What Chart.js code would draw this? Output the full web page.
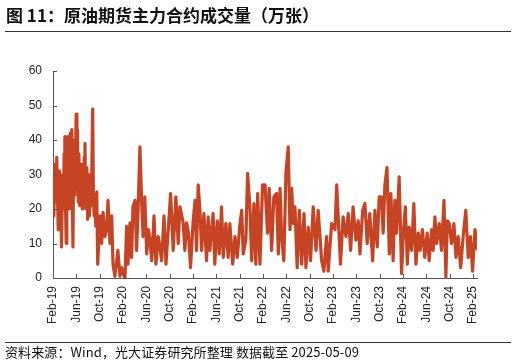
<!DOCTYPE html>
<html><head><meta charset="utf-8">
<script src="https://cdn.jsdelivr.net/npm/chart.js@4"></script>
<style>
html,body{margin:0;padding:0;background:#fff;}
#wrap{position:relative;width:516px;height:364px;overflow:hidden;background:#fff;}
#title{position:absolute;left:6px;top:6px;line-height:17px;font-weight:bold;font-size:17px;font-family:"Noto Sans CJK SC";color:#111;white-space:nowrap;}
.rule{position:absolute;left:5px;width:506px;height:1px;background:#333;}
#src{position:absolute;left:5px;top:345px;line-height:13px;font-size:13px;font-family:"Noto Sans CJK SC";color:#111;white-space:nowrap;letter-spacing:0.1px;}
canvas{position:absolute;left:0;top:0;}
</style></head>
<body>
<div id="wrap">
<canvas id="c" width="516" height="364"></canvas>
<div id="title">图 11：原油期货主力合约成交量（万张）</div>
<div class="rule" style="top:31px"></div>
<div class="rule" style="top:342px"></div>
<div id="src">资料来源：Wind，光大证券研究所整理 数据截至 2025-05-09</div>
</div>
<script>
const tickLabels = ['Feb-19','Jun-19','Oct-19','Feb-20','Jun-20','Oct-20','Feb-21','Jun-21','Oct-21','Feb-22','Jun-22','Oct-22','Feb-23','Jun-23','Oct-23','Feb-24','Jun-24','Oct-24','Feb-25'];
const yTicks = [0,10,20,30,40,50,60];
const dates = [
'2019-02-01','2019-02-05','2019-02-08','2019-02-12','2019-02-15','2019-02-19','2019-02-22','2019-02-26','2019-03-01','2019-03-05',
'2019-03-08','2019-03-12','2019-03-15','2019-03-19','2019-03-22','2019-03-26','2019-03-29','2019-04-02','2019-04-05','2019-04-09',
'2019-04-12','2019-04-16','2019-04-19','2019-04-23','2019-04-26','2019-04-30','2019-05-04','2019-05-08','2019-05-11','2019-05-14',
'2019-05-17','2019-05-21','2019-05-24','2019-05-28','2019-05-31','2019-06-04','2019-06-07','2019-06-11','2019-06-14','2019-06-18',
'2019-06-21','2019-06-25','2019-06-28','2019-07-02','2019-07-05','2019-07-09','2019-07-12','2019-07-16','2019-07-19','2019-07-23',
'2019-07-26','2019-07-30','2019-08-02','2019-08-06','2019-08-09','2019-08-13','2019-08-16','2019-08-20','2019-08-26','2019-08-30',
'2019-09-03','2019-09-07','2019-09-11','2019-09-16','2019-09-21',
'2019-10-03','2019-10-12','2019-10-19','2019-10-29',
'2019-11-07','2019-11-14','2019-11-24','2019-12-03','2019-12-10','2019-12-20','2020-01-05','2020-01-16','2020-01-25','2020-02-04',
'2020-02-11','2020-02-19','2020-02-26','2020-03-07','2020-03-16','2020-03-23','2020-04-03','2020-04-11','2020-04-18','2020-04-28',
'2020-05-07','2020-05-15','2020-05-24','2020-06-03','2020-06-12','2020-06-20','2020-06-29','2020-07-11','2020-07-21','2020-08-02',
'2020-08-11','2020-08-20','2020-09-02','2020-09-12','2020-09-24','2020-10-06','2020-10-20','2020-11-03','2020-11-15','2020-11-24',
'2020-12-11','2020-12-20','2020-12-29','2021-01-08','2021-01-19','2021-02-02','2021-02-11','2021-02-18','2021-02-26','2021-03-07',
'2021-03-16','2021-03-28','2021-04-11','2021-04-19','2021-04-28','2021-05-15','2021-05-24','2021-06-06','2021-06-16','2021-06-28',
'2021-07-07','2021-07-21','2021-08-02','2021-08-11','2021-08-26','2021-09-07','2021-09-19','2021-10-03','2021-10-12','2021-10-20',
'2021-11-03','2021-11-12','2021-11-24','2021-12-03','2021-12-15','2021-12-25','2022-01-04','2022-01-16','2022-01-30','2022-02-11',
'2022-02-23','2022-03-03','2022-03-16','2022-03-28','2022-04-11','2022-04-20','2022-04-29','2022-05-07','2022-05-19','2022-05-30',
'2022-06-11','2022-06-20','2022-06-29','2022-07-07','2022-07-16','2022-07-28','2022-08-08','2022-08-21','2022-09-02','2022-09-12',
'2022-09-24','2022-10-06','2022-10-20','2022-11-04','2022-11-15','2022-12-03','2022-12-15','2022-12-29','2023-01-07','2023-01-25',
'2023-02-11','2023-02-19','2023-03-03','2023-03-10','2023-03-24','2023-04-08','2023-04-20','2023-05-02','2023-05-15','2023-05-30',
'2023-06-11','2023-06-20','2023-07-04','2023-07-16','2023-07-28','2023-08-11','2023-08-26','2023-09-07','2023-09-19','2023-09-29',
'2023-10-11','2023-10-20','2023-10-29','2023-11-09','2023-11-21','2023-11-29','2023-12-11','2023-12-20','2023-12-29','2024-01-12',
'2024-01-25','2024-02-02','2024-02-13','2024-02-23','2024-03-03','2024-03-16','2024-03-28','2024-04-08','2024-04-20','2024-04-29',
'2024-05-12','2024-05-24','2024-06-06','2024-06-16','2024-06-29','2024-07-07','2024-07-16','2024-07-25','2024-08-08','2024-08-20',
'2024-09-02','2024-09-12','2024-09-19','2024-09-29','2024-10-11','2024-10-24','2024-11-04','2024-11-15','2024-11-28','2024-12-11',
'2024-12-25','2025-01-07','2025-01-19','2025-01-30','2025-02-11','2025-02-23'
];
const volumes = [
30,18,27,33,22,35,26,14,24,31,
18,28,9,22,30,20,36,41,22,10,
30,41,24,38,20,42,26,43,22,9,
30,40,24,35,47.5,28,43,22,36,21,
30,24,33,20,31,22,35,39,24,20,
32,17,30,23,18,28,21,26,49,22,
18,24,15,25,4,
18,10,19,12,
14,22.5,10,18,4,0.5,8,0.5,3,1,
0,15,4,16,6,20.6,22.5,8,18,38,
22.5,12,23.5,7,14,11,5,18,4,12,
9,5,18,4,14,24.5,8,23.5,10,20.6,
16,8,16,13,3,16.6,22.5,8,27,19.6,
8,18.7,5,17.7,8,18.7,4,16.6,7,20.6,
6,15.8,6,15.8,4,12,6,15.8,19.6,7,
11,30.3,20.6,5,21.6,4,24.5,4,27,27,
13,26,8,23.5,24.5,7,26,12,5,30.3,
38,14,26,15.8,20.6,3,19.6,4,18.7,3,
14.7,5,20.6,8,19.6,5,2,12,2,15.8,
14,27,12,4,17.7,12,18.7,8,20.6,11,
16.6,7,19.6,21.6,10,18.7,5,19.6,9,23.5,
23.5,13,27,32,7,24.5,5,22.5,13,29.3,
1.3,12,20.6,4,14.7,8,21.6,4,13,8,
14,6,13,5,14,8,17.7,10,15.8,8,
22.5,0.3,16.6,15.8,10,15.8,6,12,3,12,
19.6,6,12,2,14,8
];

const monIdx = {Jan:0,Feb:1,Mar:2,Apr:3,May:4,Jun:5,Jul:6,Aug:7,Sep:8,Oct:9,Nov:10,Dec:11};
function labelToMonths(l){const [m,y]=l.split('-');return (2000+parseInt(y,10)-2019)*12+monIdx[m]-1;}
function dateToMonths(s){
  const [y,m,d]=s.split('-').map(Number);
  const dim=new Date(y,m,0).getDate();
  return (y-2019)*12+(m-2)+(d-1)/dim;
}
const tickPos = tickLabels.map(labelToMonths);
const points = dates.map((d,i)=>({x:dateToMonths(d),y:volumes[i]}));

const innerTicks = {
  id:'innerTicks',
  afterDraw(chart){
    const {ctx, chartArea:a, scales:{x,y}} = chart;
    ctx.save(); ctx.strokeStyle='#555'; ctx.lineWidth=1; ctx.beginPath();
    x.ticks.forEach(t=>{const px=Math.round(x.getPixelForValue(t.value))+0.5; ctx.moveTo(px,a.bottom); ctx.lineTo(px,a.bottom-4);});
    y.ticks.forEach(t=>{const py=Math.round(y.getPixelForValue(t.value))+0.5; ctx.moveTo(a.left,py); ctx.lineTo(a.left+4,py);});
    ctx.stroke(); ctx.restore();
  }
};

new Chart(document.getElementById('c'),{
  type:'line',
  data:{datasets:[{data:points,borderColor:'#C64424',borderWidth:3.2,pointRadius:0,tension:0,fill:false,borderJoinStyle:'round'}]},
  options:{
    responsive:false,animation:false,
    layout:{padding:{top:71,left:0,right:39,bottom:36}},
    plugins:{legend:{display:false},tooltip:{enabled:false}},
    scales:{
      x:{type:'linear',min:0,max:72.7,
        afterFit(s){s.height=50;},
        afterBuildTicks(s){s.ticks=tickPos.map(v=>({value:v}));},
        grid:{drawOnChartArea:false,drawTicks:false},
        border:{color:'#555',width:1},
        ticks:{autoSkip:false,maxRotation:90,minRotation:90,padding:8,color:'#222',
          font:{family:'"Liberation Sans", Arial',size:12},
          callback:(v)=>{const i=tickPos.indexOf(v);return i>=0?tickLabels[i]:'';}}
      },
      y:{min:0,max:60,
        afterFit(s){s.width=53;},
        afterBuildTicks(s){s.ticks=yTicks.map(v=>({value:v}));},
        grid:{drawOnChartArea:false,drawTicks:false},
        border:{color:'#555',width:1},
        ticks:{padding:11,color:'#222',font:{family:'"Liberation Sans", Arial',size:12}}
      }
    }
  },
  plugins:[innerTicks]
});
</script>
</body></html>
